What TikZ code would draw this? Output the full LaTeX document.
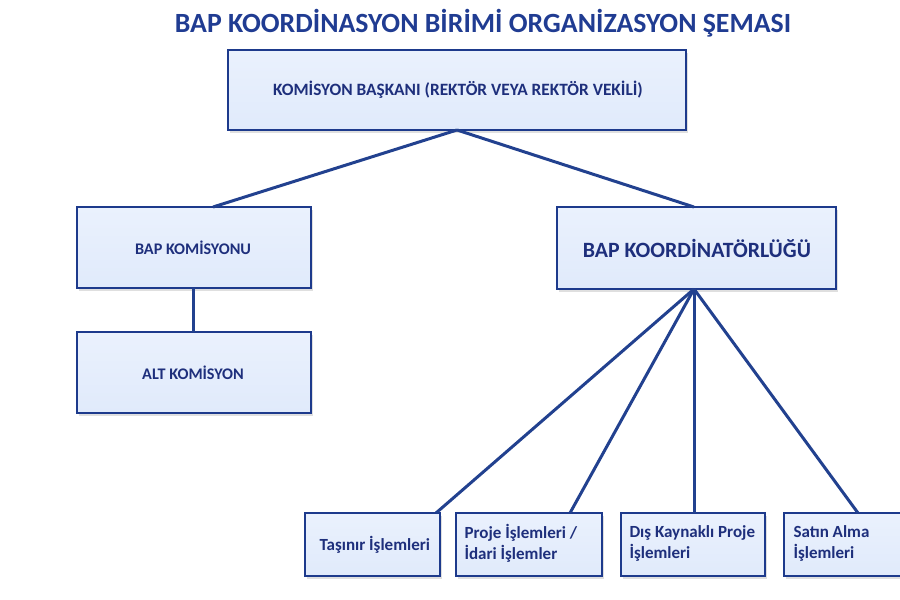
\documentclass[tikz,border=0pt]{standalone}
\usepackage{fontspec}
\setmainfont{Carlito}
\usetikzlibrary{shadows}
\definecolor{navy}{HTML}{1E2F7C}
\definecolor{titleblue}{HTML}{203C92}
\definecolor{boxborder}{HTML}{1D3A8C}
\definecolor{boxfilltop}{HTML}{EAF1FD}
\definecolor{boxfillbot}{HTML}{E0EAFB}
\definecolor{linkblue}{HTML}{22418F}
\tikzset{
  orgbox/.style={draw=boxborder, line width=2.8pt, top color=boxfilltop, bottom color=boxfillbot,
    drop shadow={shadow xshift=1.5pt, shadow yshift=-2.5pt, opacity=.25}},
  link/.style={draw=linkblue, line width=3pt},
  boxtext/.style={text=navy, font=\bfseries},
}
\begin{document}
\begin{tikzpicture}[x=1pt,y=-1pt]
\useasboundingbox (0,0) rectangle (900,600);
% title
\node[text=titleblue, font=\fontsize{27.8}{30}\selectfont\bfseries] (title) at (483,23) {BAP KOORDİNASYON BİRİMİ ORGANİZASYON ŞEMASI};
% boxes
\path[orgbox] (228,50) rectangle (686,130);
\path[orgbox] (77,207) rectangle (311,288);
\path[orgbox] (77,332) rectangle (311,413);
\path[orgbox] (557,207) rectangle (836,289);
\path[orgbox] (305,513) rectangle (440,576);
\path[orgbox] (456,513) rectangle (602,576);
\path[orgbox] (621,513) rectangle (765,576);
\path[orgbox] (784,513) rectangle (912,576);
% named anchor points
\coordinate (pres-s) at (457,130);
\coordinate (kom-n) at (213,207);
\coordinate (kom-s) at (193,288);
\coordinate (alt-n) at (193,332);
\coordinate (koor-n) at (694,207);
\coordinate (koor-s) at (694,289);
\coordinate (tas-n) at (436,513);
\coordinate (pro-n) at (570,513);
\coordinate (dis-n) at (694,513);
\coordinate (sat-n) at (858,513);
% texts
\node[boxtext, font=\fontsize{17.3}{20}\selectfont\bfseries] (pres) at (458,90) {KOMİSYON BAŞKANI (REKTÖR VEYA REKTÖR VEKİLİ)};
\node[boxtext, font=\fontsize{16.2}{19}\selectfont\bfseries] (kom) at (193,248) {BAP KOMİSYONU};
\node[boxtext, font=\fontsize{16.2}{19}\selectfont\bfseries] (alt) at (193,373) {ALT KOMİSYON};
\node[boxtext, font=\fontsize{21.8}{24}\selectfont\bfseries] (koor) at (697,248) {BAP KOORDİNATÖRLÜĞÜ};
\node[boxtext, font=\fontsize{17}{21}\selectfont\bfseries, anchor=west] (tas) at (316,545) {Taşınır İşlemleri};
\node[boxtext, font=\fontsize{17}{21}\selectfont\bfseries, anchor=west, align=left] (pro) at (461,543) {Proje İşlemleri /\\İdari İşlemler};
\node[boxtext, font=\fontsize{17}{21}\selectfont\bfseries, anchor=west, align=left] (dis) at (626,543) {Dış Kaynaklı Proje\\İşlemleri};
\node[boxtext, font=\fontsize{17}{21}\selectfont\bfseries, anchor=west, align=left] (sat) at (790,543) {Satın Alma\\İşlemleri};
% connectors
\draw[link] (pres-s) -- (kom-n);
\draw[link] (pres-s) -- (koor-n);
\draw[link] (kom-s) -- (alt-n);
\draw[link] (koor-s) -- (tas-n);
\draw[link] (koor-s) -- (pro-n);
\draw[link] (koor-s) -- (dis-n);
\draw[link] (koor-s) -- (sat-n);
\end{tikzpicture}
\end{document}
